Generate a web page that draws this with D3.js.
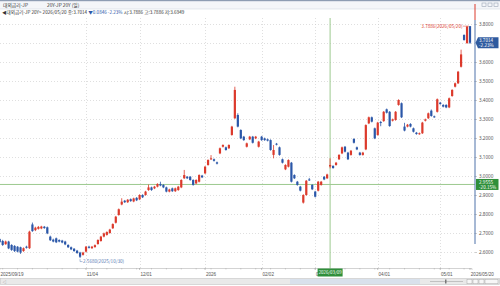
<!DOCTYPE html>
<html>
<head>
<meta charset="utf-8">
<script src="https://cdn.jsdelivr.net/npm/d3@7"></script>
<style>
  body { margin: 0; background: #fff; overflow: hidden; }
  svg { display: block; font-family: "Noto Sans CJK KR", "Noto Sans", sans-serif; }
</style>
</head>
<body>
<div id="chart"></div>
<script>
// daily candles, 2025/09/19 .. 2026/05/20 (one entry per trading day)
const opens = [
  2.668,2.658,2.641,2.655,2.637,2.632,2.628,2.625,2.605,2.628,
  2.620,2.745,2.715,2.722,2.724,2.733,2.730,2.681,2.665,2.672,
  2.663,2.660,2.655,2.637,2.625,2.617,2.607,2.597,2.585,2.602,
  2.628,2.620,2.626,2.642,2.658,2.681,2.690,2.700,2.725,2.754,
  2.795,2.850,2.870,2.862,2.878,2.866,2.885,2.877,2.900,2.900,
  2.926,2.940,2.935,2.944,2.958,2.953,2.940,2.918,2.935,2.920,
  2.926,2.940,2.988,2.996,2.996,2.979,2.961,2.970,3.002,3.014,
  3.058,3.088,3.088,3.072,3.119,3.154,3.151,3.146,3.216,3.304,
  3.321,3.242,3.207,3.154,3.193,3.207,3.198,3.154,3.207,3.198,
  3.193,3.189,3.111,3.170,3.151,3.088,3.035,3.049,3.070,3.005,
  2.970,2.944,2.860,2.900,2.982,2.953,2.918,2.923,2.953,2.996,
  2.988,3.050,3.053,3.058,3.088,3.119,3.154,3.123,3.111,3.195,
  3.151,3.123,3.111,3.140,3.277,3.309,3.251,3.216,3.284,3.289,
  3.351,3.338,3.291,3.295,3.374,3.383,3.260,3.260,3.274,3.251,
  3.228,3.221,3.225,3.291,3.304,3.344,3.314,3.338,3.386,3.374,
  3.374,3.361,3.421,3.470,3.488,3.575,3.742,3.700,3.7886
];
const highs = [
  2.672,2.664,2.660,2.659,2.641,2.636,2.631,2.628,2.624,2.633,
  2.712,2.755,2.733,2.737,2.738,2.737,2.734,2.686,2.670,2.676,
  2.667,2.664,2.659,2.641,2.629,2.621,2.611,2.601,2.601,2.632,
  2.633,2.632,2.640,2.667,2.685,2.702,2.709,2.722,2.751,2.790,
  2.829,2.883,2.874,2.879,2.882,2.886,2.889,2.904,2.904,2.922,
  2.955,2.944,2.948,2.962,2.970,2.957,2.944,2.933,2.939,2.939,
  2.948,2.983,3.032,3.000,3.000,2.983,2.983,3.009,3.006,3.053,
  3.088,3.110,3.092,3.076,3.150,3.167,3.155,3.167,3.264,3.470,
  3.330,3.246,3.211,3.176,3.211,3.211,3.211,3.185,3.211,3.202,
  3.197,3.193,3.163,3.174,3.155,3.092,3.062,3.088,3.074,3.009,
  2.974,2.948,2.904,2.979,2.990,2.957,2.922,2.974,2.974,3.000,
  3.012,3.093,3.057,3.074,3.115,3.155,3.158,3.127,3.137,3.199,
  3.155,3.127,3.127,3.272,3.313,3.313,3.255,3.285,3.290,3.342,
  3.355,3.342,3.302,3.342,3.404,3.387,3.280,3.274,3.278,3.255,
  3.232,3.229,3.285,3.302,3.334,3.350,3.318,3.408,3.390,3.378,
  3.378,3.413,3.457,3.492,3.553,3.665,3.746,3.790,3.7886
];
const lows = [
  2.648,2.632,2.638,2.615,2.606,2.600,2.598,2.590,2.601,2.618,
  2.616,2.706,2.710,2.718,2.720,2.722,2.694,2.658,2.651,2.647,
  2.651,2.646,2.636,2.621,2.610,2.601,2.590,2.568,2.581,2.598,
  2.618,2.616,2.622,2.638,2.654,2.677,2.686,2.696,2.721,2.750,
  2.791,2.846,2.858,2.858,2.864,2.862,2.868,2.873,2.884,2.896,
  2.922,2.922,2.931,2.940,2.946,2.936,2.914,2.914,2.916,2.916,
  2.922,2.936,2.984,2.984,2.975,2.949,2.957,2.966,2.989,3.010,
  3.054,3.084,3.076,3.061,3.115,3.150,3.133,3.142,3.212,3.300,
  3.256,3.194,3.185,3.150,3.189,3.171,3.194,3.150,3.185,3.185,
  3.182,3.133,3.093,3.161,3.107,3.066,3.031,3.045,2.966,2.984,
  2.949,2.919,2.855,2.896,2.974,2.926,2.887,2.919,2.949,2.978,
  2.984,3.040,3.038,3.054,3.084,3.115,3.124,3.084,3.107,3.171,
  3.136,3.107,3.107,3.136,3.273,3.282,3.194,3.212,3.262,3.285,
  3.329,3.259,3.287,3.291,3.370,3.305,3.235,3.256,3.256,3.229,
  3.217,3.217,3.221,3.287,3.300,3.312,3.306,3.334,3.375,3.361,
  3.357,3.357,3.417,3.466,3.484,3.571,3.712,3.695,3.6949
];
const closes = [
  2.652,2.637,2.655,2.619,2.611,2.605,2.602,2.597,2.620,2.622,
  2.707,2.710,2.728,2.732,2.734,2.726,2.698,2.662,2.655,2.651,
  2.655,2.650,2.640,2.625,2.614,2.605,2.595,2.575,2.597,2.628,
  2.622,2.628,2.636,2.663,2.681,2.698,2.705,2.718,2.747,2.786,
  2.825,2.865,2.862,2.875,2.868,2.882,2.872,2.900,2.888,2.918,
  2.940,2.926,2.944,2.958,2.950,2.940,2.918,2.929,2.920,2.935,
  2.944,2.979,3.005,2.988,2.979,2.953,2.979,3.005,2.993,3.049,
  3.084,3.093,3.080,3.065,3.146,3.163,3.137,3.163,3.260,3.453,
  3.260,3.198,3.189,3.172,3.207,3.175,3.207,3.181,3.189,3.189,
  3.186,3.137,3.137,3.165,3.111,3.070,3.058,3.084,2.970,2.988,
  2.953,2.923,2.900,2.975,2.978,2.930,2.891,2.970,2.970,2.982,
  3.008,3.058,3.042,3.070,3.111,3.151,3.128,3.088,3.133,3.175,
  3.140,3.111,3.123,3.268,3.309,3.286,3.198,3.281,3.280,3.338,
  3.333,3.263,3.298,3.338,3.400,3.309,3.239,3.270,3.260,3.233,
  3.221,3.225,3.281,3.298,3.330,3.316,3.310,3.404,3.379,3.365,
  3.361,3.409,3.453,3.488,3.549,3.640,3.716,3.786,3.7014
];

// x axis: candle index of each labelled date
const tickIndex = [0, 29, 47, 69, 88, 106, 127, 148, 158];
const tickLabels = ['2025/09/19', '11/04', '12/01', '2026', '02/02', '03/02', '04/01', '05/01', '2026/05/20'];
const yTicks = [2.6, 2.7, 2.8, 2.9, 3.0, 3.1, 3.2, 3.3, 3.4, 3.5, 3.6, 3.7, 3.8];

// header / markers
const titleText = '대외금리-JP';
const codeText = '20Y-JP 20Y (일)';
const lastDate = '2026/05/20';
const lastPrice = 3.7014, lastChange = '▼0.0846', lastPct = '-2.23%';
const maxIndex = 158, maxLabel = '3.7886(2026/05/20)';
const minIndex = 27, minLabel = '2.5680(2025/10/30)';
const crossIndex = 111, crossDate = '2026/03/09', crossValue = 2.9555, crossPct = '-20.15%';

const W = 500, H = 286;
const PLOT = { left: 0, right: 475, top: 18, bottom: 268 };
const UP = '#dc3a2c', DOWN = '#2b57a8', GRID = '#c9c9c9', CROSS = '#9cc98f', CROSS_BOX = '#2f8f3a';

const N = closes.length;
const data = d3.range(N).map(i => ({ i, o: opens[i], h: highs[i], l: lows[i], c: closes[i] }));

const svg = d3.select('#chart').append('svg').attr('width', W).attr('height', H);

const x = d3.scaleBand().domain(d3.range(N)).range([-1.8, 471.5]).padding(0);
const cx = i => x(i) + x.bandwidth() / 2;
const y = d3.scaleLinear().domain([2.5158, 3.8316]).range([PLOT.bottom, PLOT.top]);

// toolbar
svg.append('rect').attr('x', 0).attr('y', 0).attr('width', W).attr('height', 9).attr('fill', '#f4f6f9');
svg.append('rect').attr('x', 0).attr('y', 0).attr('width', W).attr('height', 1.2).attr('fill', '#8e9db3');
svg.append('line').attr('x1', 0).attr('x2', W).attr('y1', 9).attr('y2', 9).attr('stroke', '#d5dbe3').attr('stroke-width', 0.6);
svg.append('text').attr('x', 3).attr('y', 6.5).attr('font-size', 4.8).attr('fill', '#333').text(titleText);
svg.append('text').attr('x', 47).attr('y', 6.5).attr('font-size', 4.8).attr('fill', '#333').text(codeText);
[484, 490, 496].forEach(bx => {
  svg.append('rect').attr('x', bx - 2).attr('y', 3).attr('width', 4).attr('height', 3.5)
    .attr('fill', 'none').attr('stroke', '#9aa5b5').attr('stroke-width', 0.6);
});

// info line
const info = svg.append('text').attr('x', 2).attr('y', 14).attr('font-size', 4.6).attr('fill', '#333');
info.append('tspan').text(`◀${titleText} 20Y> ${lastDate} 종:${d3.format('.4f')(lastPrice)} `);
info.append('tspan').attr('fill', DOWN).text(`${lastChange}  ${lastPct}`);
info.append('tspan').text(` 시:${d3.format('.4f')(opens[N - 1])} 고:${d3.format('.4f')(highs[N - 1])} 저:${d3.format('.4f')(lows[N - 1])}`);

// grid
const grid = svg.append('g');
grid.selectAll('.hg').data(yTicks).join('line')
  .attr('x1', PLOT.left).attr('x2', PLOT.right)
  .attr('y1', d => Math.round(y(d)) + 0.5).attr('y2', d => Math.round(y(d)) + 0.5)
  .attr('stroke', GRID).attr('stroke-width', 0.6).attr('stroke-dasharray', '1,2');
grid.selectAll('.vg').data(tickIndex.slice(1, -1)).join('line')
  .attr('x1', d => Math.round(cx(d)) + 0.5).attr('x2', d => Math.round(cx(d)) + 0.5)
  .attr('y1', PLOT.top).attr('y2', PLOT.bottom)
  .attr('stroke', GRID).attr('stroke-width', 0.6).attr('stroke-dasharray', '1,2');

// crosshair lines (under the candles)
svg.append('line').attr('x1', PLOT.left).attr('x2', PLOT.right)
  .attr('y1', y(crossValue)).attr('y2', y(crossValue)).attr('stroke', CROSS).attr('stroke-width', 1);
svg.append('line').attr('x1', cx(crossIndex)).attr('x2', cx(crossIndex))
  .attr('y1', PLOT.top).attr('y2', PLOT.bottom).attr('stroke', CROSS).attr('stroke-width', 1);

// candles
svg.append('clipPath').attr('id', 'clip').append('rect')
  .attr('x', PLOT.left).attr('y', PLOT.top).attr('width', PLOT.right - PLOT.left).attr('height', PLOT.bottom - PLOT.top);
const cg = svg.append('g').attr('clip-path', 'url(#clip)');
const colour = d => d.c >= d.o ? UP : DOWN;
const bodyW = 2.2;

cg.selectAll('.wick').data(data).join('line')
  .attr('x1', d => cx(d.i)).attr('x2', d => cx(d.i))
  .attr('y1', d => y(d.h)).attr('y2', d => y(d.l))
  .attr('stroke', colour).attr('stroke-width', 0.8);

cg.selectAll('.body').data(data).join('rect')
  .attr('x', d => cx(d.i) - bodyW / 2)
  .attr('y', d => y(Math.max(d.o, d.c)))
  .attr('width', bodyW)
  .attr('height', d => Math.max(1, Math.abs(y(d.o) - y(d.c))))
  .attr('fill', colour);

// max / min markers
const hx = cx(maxIndex), hy = y(highs[maxIndex]);
svg.append('line').attr('x1', hx - 7).attr('x2', hx - 1).attr('y1', hy).attr('y2', hy).attr('stroke', UP).attr('stroke-width', 0.5);
svg.append('text').attr('x', hx - 7.5).attr('y', hy + 1.6).attr('text-anchor', 'end')
  .attr('font-size', 4.6).attr('fill', UP).text(maxLabel);

const lx = cx(minIndex), ly = y(lows[minIndex]);
svg.append('path').attr('d', `M${lx},${ly + 1}V${ly + 3.5}H${lx + 2.5}`)
  .attr('fill', 'none').attr('stroke', '#5b7db5').attr('stroke-width', 0.5);
svg.append('text').attr('x', lx + 3).attr('y', ly + 5.2).attr('font-size', 4.6).attr('fill', '#5b7db5').text(minLabel);

// right price axis (labels under the last-price box are hidden, as in the terminal)
const py = y(lastPrice);
const shownTicks = yTicks.filter(t => Math.abs(y(t) - py) > 6);
const yAxis = d3.axisRight(y).tickValues(shownTicks).tickFormat(d3.format('.4f')).tickSize(2).tickPadding(2);
const ya = svg.append('g').attr('transform', `translate(${PLOT.right},0)`).call(yAxis);
ya.select('.domain').remove();
ya.selectAll('line').attr('stroke', '#999').attr('stroke-width', 0.5);
ya.selectAll('text').attr('font-size', 4.6).attr('fill', '#555').attr('font-family', '"Noto Sans", sans-serif');
svg.append('line').attr('x1', PLOT.right).attr('x2', PLOT.right).attr('y1', 4).attr('y2', 20)
  .attr('stroke', UP).attr('stroke-width', 1);
svg.append('line').attr('x1', PLOT.right).attr('x2', PLOT.right).attr('y1', 20).attr('y2', 244)
  .attr('stroke', '#4f72aa').attr('stroke-width', 1);

// bottom date axis
const xAxis = d3.axisBottom(x).tickValues(tickIndex)
  .tickFormat((d, k) => tickLabels[k]).tickSize(2).tickPadding(2.5);
const xa = svg.append('g').attr('transform', `translate(0,${PLOT.bottom})`).call(xAxis);
xa.select('.domain').attr('stroke', '#b5b5b5').attr('stroke-width', 0.6);
xa.selectAll('line').attr('stroke', '#888').attr('stroke-width', 0.5);
xa.selectAll('text').attr('font-size', 4.6).attr('fill', '#555').attr('text-anchor', 'start').attr('dx', 0.8);
const minor = d3.range(1, N, 5);
svg.append('g').attr('transform', `translate(0,${PLOT.bottom})`)
  .call(d3.axisBottom(x).tickValues(minor).tickFormat('').tickSize(1.5))
  .call(g => g.select('.domain').remove())
  .selectAll('line').attr('stroke', '#aaa').attr('stroke-width', 0.5);

// last price box
svg.append('path')
  .attr('d', `M${PLOT.right + 0.5},${py} L${PLOT.right + 3},${py - 5.5} H${W - 1.5} V${py + 5.5} H${PLOT.right + 3} Z`)
  .attr('fill', '#2e5a9f');
svg.append('text').attr('x', PLOT.right + 4).attr('y', py - 0.8).attr('font-size', 4.6).attr('fill', '#fff').text(d3.format('.4f')(lastPrice));
svg.append('text').attr('x', PLOT.right + 4).attr('y', py + 4.2).attr('font-size', 4.6).attr('fill', '#fff').text(lastPct);

// crosshair boxes
const qy = y(crossValue);
svg.append('rect').attr('x', PLOT.right + 1).attr('y', qy - 5.5).attr('width', W - PLOT.right - 2.5).attr('height', 11).attr('fill', CROSS_BOX);
svg.append('text').attr('x', PLOT.right + 4).attr('y', qy - 0.8).attr('font-size', 4.6).attr('fill', '#fff').text(d3.format('.4f')(crossValue));
svg.append('text').attr('x', PLOT.right + 4).attr('y', qy + 4.2).attr('font-size', 4.6).attr('fill', '#fff').text(crossPct);
const qx = cx(crossIndex);
svg.append('rect').attr('x', qx - 12.5).attr('y', PLOT.bottom + 0.5).attr('width', 25).attr('height', 8).attr('fill', CROSS_BOX);
svg.append('text').attr('x', qx).attr('y', PLOT.bottom + 6).attr('text-anchor', 'middle')
  .attr('font-size', 4.4).attr('fill', '#fff').text(crossDate);

// scroll bar row
svg.append('rect').attr('x', 0.5).attr('y', 278.5).attr('width', W - 1).attr('height', 6)
  .attr('fill', '#e9e9e9').attr('stroke', '#c4c4c4').attr('stroke-width', 0.6);
svg.append('rect').attr('x', 290).attr('y', 279).attr('width', 130).attr('height', 5).attr('fill', '#d9e1ec');
svg.append('text').attr('x', 2.5).attr('y', 283.5).attr('font-size', 4).attr('fill', '#777').text('◁');
svg.append('line').attr('x1', 430).attr('x2', 463).attr('y1', 281.5).attr('y2', 281.5).attr('stroke', '#999').attr('stroke-width', 0.5);
svg.append('rect').attr('x', 445).attr('y', 279.5).attr('width', 1.5).attr('height', 4).attr('fill', '#777');
[467, 473, 479].forEach(bx => {
  svg.append('rect').attr('x', bx).attr('y', 279.3).attr('width', 5).attr('height', 4.5)
    .attr('fill', '#f7f7f7').attr('stroke', '#999').attr('stroke-width', 0.4);
});
svg.append('rect').attr('x', 485).attr('y', 279.3).attr('width', 13).attr('height', 4.5)
  .attr('fill', '#f7f7f7').attr('stroke', '#999').attr('stroke-width', 0.4);
</script>
</body>
</html>
